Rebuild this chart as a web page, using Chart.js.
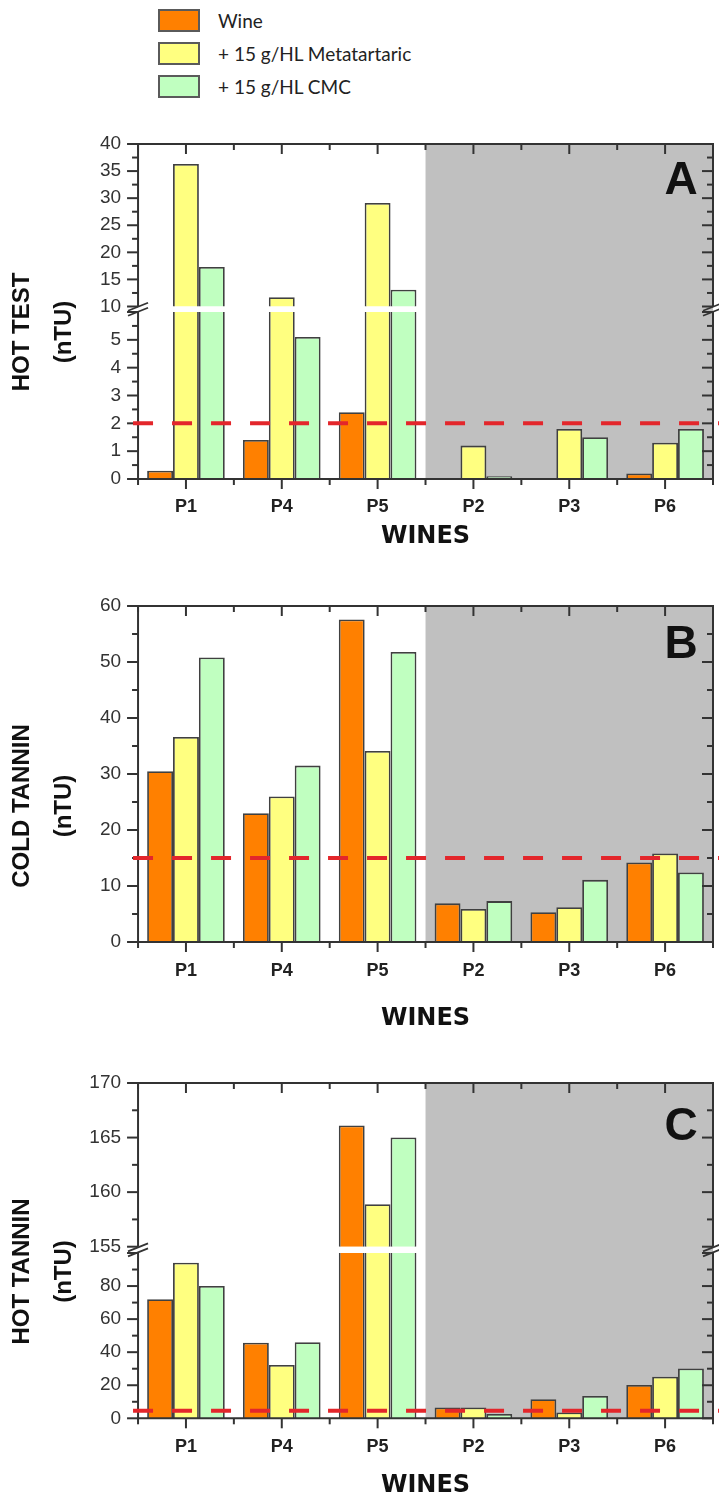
<!DOCTYPE html>
<html>
<head>
<meta charset="utf-8">
<script src="https://cdn.jsdelivr.net/npm/chart.js@4.4.1/dist/chart.umd.min.js"></script>
<style>
  body { margin: 0; background: #fff; width: 719px; height: 1501px; position: relative; overflow: hidden; }
  #legend { position: absolute; left: 158px; top: 9px; font-family: Lato, "Open Sans", sans-serif; font-size: 19px; color: #222; }
  .row { display: flex; align-items: center; height: 23px; margin-bottom: 10px; }
  .sw { width: 38px; height: 19px; border: 2px solid #5a5a5a; margin-right: 18px; }
  canvas { position: absolute; left: 0; }
</style>
</head>
<body>
<div id="legend"></div>
<canvas id="cA" width="719" height="455" style="top:110px"></canvas>
<canvas id="cB" width="719" height="470" style="top:565px"></canvas>
<canvas id="cC" width="719" height="466" style="top:1035px"></canvas>
<script>
const wines = ['P1', 'P4', 'P5', 'P2', 'P3', 'P6'];
const seriesNames = ['Wine', '+ 15 g/HL Metatartaric', '+ 15 g/HL CMC'];
const seriesColors = ['#ff8000', '#ffff80', '#c0ffc0'];

// A - hot test (nTU)
const hotTestWine = [0.3, 1.4, 2.4, 0, 0, 0.2];
const hotTestMeta = [36.3, 11.7, 29.1, 1.2, 1.8, 1.3];
const hotTestCmc = [17.3, 5.1, 13.1, 0.1, 1.5, 1.8];
const hotTestLimit = 2;

// B - cold tannin (nTU)
const coldWine = [30.5, 23.0, 57.6, 6.9, 5.3, 14.2];
const coldMeta = [36.6, 26.0, 34.1, 5.9, 6.2, 15.8];
const coldCmc = [50.8, 31.5, 51.8, 7.3, 11.1, 12.4];
const coldLimit = 15;

// C - hot tannin (nTU)
const hotTanninWine = [72, 45.7, 166.1, 6.5, 11.5, 20.1];
const hotTanninMeta = [94.1, 32.2, 158.9, 6.5, 3.5, 25.2];
const hotTanninCmc = [80, 46, 165, 2.6, 13.5, 30.2];
const hotTanninLimit = 4.5;

// axis segments [min, max, major step, minor step]
const hotTestLow = [0, 6, 1, 0.5];
const hotTestHigh = [10, 40, 5, 2.5];
const coldAxis = [0, 60, 10, 5];
const hotTanninLow = [0, 100, 20, 10];
const hotTanninHigh = [155, 170, 5, 2.5];

// first category boundary of the grey block (between P5 and P2)
const greyFrom = 2.5;

Chart.defaults.font.family = "'Liberation Sans', Arial, sans-serif";

// legend
const legendNode = document.getElementById('legend');
seriesNames.forEach((name, i) => {
    const row = document.createElement('div');
    row.className = 'row';
    row.innerHTML = '<div class="sw" style="background:' + seriesColors[i] + '"></div><span>' + name + '</span>';
    legendNode.appendChild(row);
});

const specs = {
    cA: {
        series: [hotTestWine, hotTestMeta, hotTestCmc],
        title: ['HOT TEST', '(nTU)'], letter: 'A', letterDy: 37, limit: hotTestLimit,
        segs: [{ id: 'yLow', r: hotTestLow, px: 167, hideTop: true }, { id: 'yHigh', r: hotTestHigh, px: 162.5 }],
        gap: 5.5, padding: { top: 34, right: 6, bottom: 45, left: 0 }, xAxisH: 41, xTickPad: 17.2, winesPad: -31.2
    },
    cB: {
        series: [coldWine, coldMeta, coldCmc],
        title: ['COLD TANNIN', '(nTU)'], letter: 'B', letterDy: 39, limit: coldLimit,
        segs: [{ id: 'yLow', r: coldAxis, px: 336 }],
        gap: 0, padding: { top: 41, right: 6, bottom: 29, left: 0 }, xAxisH: 64, xTickPad: 18.2, winesPad: -27.2
    },
    cC: {
        series: [hotTanninWine, hotTanninMeta, hotTanninCmc],
        title: ['HOT TANNIN', '(nTU)'], letter: 'C', letterDy: 44, limit: hotTanninLimit,
        segs: [{ id: 'yLow', r: hotTanninLow, px: 165.3, hideTop: true }, { id: 'yHigh', r: hotTanninHigh, px: 163.7 }],
        gap: 6.3, padding: { top: 48, right: 6, bottom: 41, left: 0 }, xAxisH: 41.7, xTickPad: 17.9, winesPad: -40.2
    }
};

function line(ctx, x1, y1, x2, y2) {
    ctx.beginPath();
    ctx.moveTo(x1, y1);
    ctx.lineTo(x2, y2);
    ctx.stroke();
}

const panelPlugin = {
    id: 'panel',
    beforeDatasetsDraw(chart) {
        const { ctx, chartArea: a, scales: { x } } = chart;
        const gx = x.getPixelForValue(greyFrom);
        ctx.save();
        ctx.fillStyle = '#c0c0c0';
        ctx.fillRect(gx, a.top, a.right - gx, a.bottom - a.top);
        ctx.restore();
    },
    // each bar dataset only shows inside its own axis segment
    beforeDatasetDraw(chart, args) {
        const ys = args.meta.yScale, a = chart.chartArea, ctx = chart.ctx;
        ctx.save();
        ctx.beginPath();
        ctx.rect(a.left, ys.top, a.right - a.left, ys.bottom - ys.top);
        ctx.clip();
    },
    afterDatasetDraw(chart) {
        chart.ctx.restore();
    },
    afterDatasetsDraw(chart) {
        const spec = specs[chart.canvas.id];
        const { ctx, chartArea: a, scales } = chart;
        const x = scales.x;
        ctx.save();
        ctx.strokeStyle = '#333';
        ctx.lineWidth = 2;
        line(ctx, a.left - 1, a.top, a.right + 1, a.top);
        line(ctx, a.left - 1, a.bottom, a.right + 1, a.bottom);
        for (let i = 0; i < wines.length; i++) {
            const px = x.getPixelForValue(i);
            line(ctx, px, a.top, px, a.top + 10);
            line(ctx, px, a.bottom, px, a.bottom + 10);
        }
        for (let i = 0; i <= wines.length; i++) {
            const bx = x.getPixelForValue(i - 0.5);
            line(ctx, bx, a.top, bx, a.top + 6);
            line(ctx, bx, a.bottom, bx, a.bottom + 6);
        }
        spec.segs.forEach(seg => {
            const s = scales[seg.id];
            const [min, max, step, minor] = seg.r;
            line(ctx, a.left, s.top, a.left, s.bottom);
            line(ctx, a.right, s.top, a.right, s.bottom);
            const n = Math.round((max - min) / minor);
            for (let k = 0; k <= n; k++) {
                const v = min + k * minor;
                const q = (v - min) / step;
                const major = Math.abs(q - Math.round(q)) < 1e-6;
                const py = s.getPixelForValue(v);
                const len = major ? 11 : 6;
                line(ctx, a.left - len, py, a.left, py);
                line(ctx, a.right - len, py, a.right, py);
            }
        });
        if (spec.segs.length > 1) {
            const g = scales.yGap;
            const yc = (g.top + g.bottom) / 2;
            ctx.lineWidth = 1.8;
            [a.left, a.right].forEach(x0 => {
                [-2.5, 2.5].forEach(d => line(ctx, x0 - 10, yc + d + 4, x0 + 10, yc + d - 4));
            });
        }
        // limit line
        const ly = scales.yLow.getPixelForValue(spec.limit);
        ctx.strokeStyle = '#e3262b';
        ctx.lineWidth = 4;
        ctx.setLineDash([20, 19]);
        line(ctx, a.left - 5, ly, chart.width, ly);
        ctx.setLineDash([]);
        // panel letter
        ctx.fillStyle = '#111';
        ctx.font = "bold 46px 'Liberation Sans', Arial, sans-serif";
        ctx.textAlign = 'center';
        ctx.textBaseline = 'middle';
        ctx.fillText(spec.letter, a.right - 32, a.top + spec.letterDy);
        ctx.restore();
    }
};

function drawPanel(canvasID) {
    const spec = specs[canvasID];
    const scales = {
        x: {
            type: 'category',
            offset: true,
            grid: { display: false, drawTicks: false },
            border: { display: false },
            ticks: { padding: spec.xTickPad, color: '#222', font: { size: 18, weight: 'bold' } },
            title: {
                display: true, text: 'WINES', color: '#111',
                font: { family: "'DejaVu Sans', sans-serif", size: 24, weight: 'bold' },
                padding: { top: 0, bottom: spec.winesPad }
            },
            afterFit: s => { s.height = spec.xAxisH; }
        }
    };
    const broken = spec.segs.length > 1;
    spec.segs.forEach((seg, j) => {
        if (j === 1) {
            scales.yGap = { type: 'linear', display: false, position: 'left', stack: 'y', stackWeight: spec.gap, min: 0, max: 1 };
        }
        const [min, max, step] = seg.r;
        const yOpts = {
            type: 'linear',
            position: 'left',
            stacked: false,
            min: min,
            max: max,
            grid: { display: false, drawTicks: false },
            border: { display: false },
            ticks: {
                stepSize: step,
                autoSkip: false,
                padding: 17,
                color: '#333',
                font: { size: 19 },
                callback: v => (seg.hideTop && v === max) ? '' : String(v)
            },
            afterFit: s => { s.width = 53; }
        };
        if (broken) {
            yOpts.stack = 'y';
            yOpts.stackWeight = seg.px;
        }
        scales[seg.id] = yOpts;
    });

    const datasets = [];
    spec.series.forEach((vals, i) => {
        spec.segs.forEach(seg => {
            const min = seg.r[0];
            datasets.push({
                label: seriesNames[i],
                data: vals.map(v => (min === 0 || v > min) ? v : null),
                yAxisID: seg.id,
                stack: 's' + i,
                backgroundColor: seriesColors[i],
                borderColor: '#404040',
                borderWidth: 1.8,
                categoryPercentage: 0.81,
                barPercentage: 1
            });
        });
    });

    return new Chart(document.getElementById(canvasID), {
        type: 'bar',
        data: { labels: wines, datasets: datasets },
        options: {
            responsive: false,
            animation: false,
            devicePixelRatio: 1,
            events: [],
            layout: { padding: spec.padding },
            scales: scales,
            plugins: {
                legend: { display: false },
                tooltip: { enabled: false },
                title: {
                    display: true,
                    position: 'left',
                    text: spec.title,
                    color: '#111',
                    font: { size: 24, weight: 'bold', lineHeight: 1.73 },
                    padding: { top: 2, bottom: 0 }
                }
            }
        },
        plugins: [panelPlugin]
    });
}

const charts = {};
['cA', 'cB', 'cC'].forEach(id => { charts[id] = drawPanel(id); });
</script>
</body>
</html>
